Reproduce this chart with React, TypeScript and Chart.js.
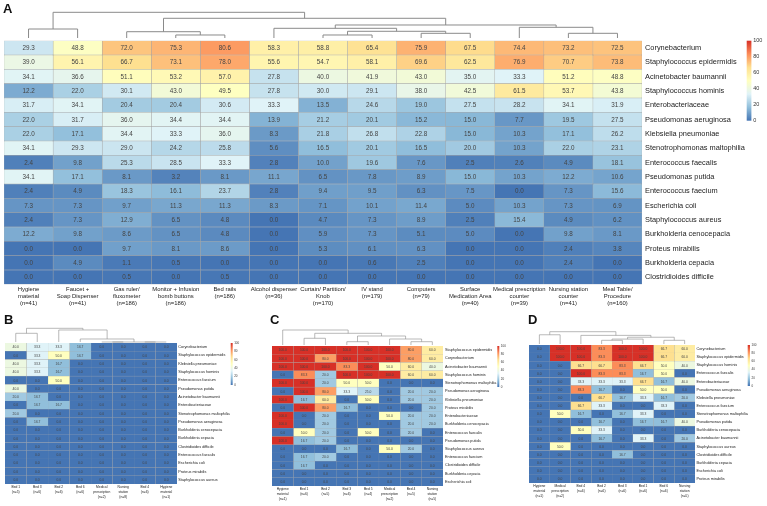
import React, { useEffect, useRef } from "react";
import { Chart, registerables } from "chart.js";
Chart.register(...registerables);

const FONT = "'Liberation Sans', Arial, Helvetica, sans-serif";

// ---------------- Panel A data ----------------
const colsA: string[][] = [
  ["Hygiene", "material", "(n=41)"],
  ["Faucet +", "Soap Dispenser", "(n=41)"],
  ["Gas ruler/", "fluxometer", "(n=186)"],
  ["Monitor + Infusion", "bomb buttons", "(n=186)"],
  ["Bed rails", "(n=186)"],
  ["Alcohol dispenser", "(n=36)"],
  ["Curtain/ Partition/", "Knob", "(n=170)"],
  ["IV stand", "(n=179)"],
  ["Computers", "(n=79)"],
  ["Surface", "Medication Area", "(n=40)"],
  ["Medical prescription", "counter", "(n=39)"],
  ["Nursing station", "counter", "(n=41)"],
  ["Meal Table/", "Procedure", "(n=160)"],
];
const rowsA: string[] = [
  "Corynebacterium", "Staphylococcus epidermidis", "Acinetobacter baumannii", "Staphylococcus hominis",
  "Enterobacteriaceae", "Pseudomonas aeruginosa", "Klebsiella pneumoniae", "Stenotrophomonas maltophilia",
  "Enterococcus faecalis", "Pseudomonas putida", "Enterococcus faecium", "Escherichia coli",
  "Staphylococcus aureus", "Burkholderia cenocepacia", "Proteus mirabilis", "Burkholderia cepacia",
  "Clostridioides difficile",
];
const valuesA: number[][] = [
  [29.3, 48.8, 72.0, 75.3, 80.6, 58.3, 58.8, 65.4, 75.9, 67.5, 74.4, 73.2, 72.5],
  [39.0, 56.1, 66.7, 73.1, 78.0, 55.6, 54.7, 58.1, 69.6, 62.5, 76.9, 70.7, 73.8],
  [34.1, 36.6, 51.1, 53.2, 57.0, 27.8, 40.0, 41.9, 43.0, 35.0, 33.3, 51.2, 48.8],
  [12.2, 22.0, 30.1, 43.0, 49.5, 27.8, 30.0, 29.1, 38.0, 42.5, 61.5, 53.7, 43.8],
  [31.7, 34.1, 20.4, 20.4, 30.6, 33.3, 13.5, 24.6, 19.0, 27.5, 28.2, 34.1, 31.9],
  [22.0, 31.7, 36.0, 34.4, 34.4, 13.9, 21.2, 20.1, 15.2, 15.0, 7.7, 19.5, 27.5],
  [22.0, 17.1, 34.4, 33.3, 36.0, 8.3, 21.8, 26.8, 22.8, 15.0, 10.3, 17.1, 26.2],
  [34.1, 29.3, 29.0, 24.2, 25.8, 5.6, 16.5, 20.1, 16.5, 20.0, 10.3, 22.0, 23.1],
  [2.4, 9.8, 25.3, 28.5, 33.3, 2.8, 10.0, 19.6, 7.6, 2.5, 2.6, 4.9, 18.1],
  [34.1, 17.1, 8.1, 3.2, 8.1, 11.1, 6.5, 7.8, 8.9, 15.0, 10.3, 12.2, 10.6],
  [2.4, 4.9, 18.3, 16.1, 23.7, 2.8, 9.4, 9.5, 6.3, 7.5, 0.0, 7.3, 15.6],
  [7.3, 7.3, 9.7, 11.3, 11.3, 8.3, 7.1, 10.1, 11.4, 5.0, 10.3, 7.3, 6.9],
  [2.4, 7.3, 12.9, 6.5, 4.8, 0.0, 4.7, 7.3, 8.9, 2.5, 15.4, 4.9, 6.2],
  [12.2, 9.8, 8.6, 6.5, 4.8, 0.0, 5.9, 7.3, 5.1, 5.0, 0.0, 9.8, 8.1],
  [0.0, 0.0, 9.7, 8.1, 8.6, 0.0, 5.3, 6.1, 6.3, 0.0, 0.0, 2.4, 3.8],
  [0.0, 4.9, 1.1, 0.5, 0.0, 0.0, 0.0, 0.6, 2.5, 0.0, 0.0, 2.4, 0.0],
  [0.0, 0.0, 0.5, 0.0, 0.5, 0.0, 0.0, 0.0, 0.0, 0.0, 0.0, 0.0, 0.0],
];
type Tree = number | [number, Tree, Tree];
const treeA: Tree = [1.0, [0.35, 0, 1], [0.767, [0.245, 2, [0.117, 3, 4]],
  [0.506, [0.377, 5, [0.261, [0.117, 6, 7], [0.183, 8, 9]]], [0.416, 10, [0.183, 11, 12]]]]];

// ---------------- Panel B data ----------------
const colsB: string[][] = [
  ["Bed 1", "(n=5)"], ["Bed 3", "(n=6)"], ["Bed 2", "(n=6)"], ["Bed 6", "(n=6)"],
  ["Medical", "prescription", "(n=2)"], ["Nursing", "station", "(n=8)"], ["Bed 4", "(n=6)"],
  ["Hygiene", "material", "(n=1)"],
];
const rowsB: string[] = [
  "Corynebacterium", "Staphylococcus epidermidis", "Klebsiella pneumoniae", "Staphylococcus hominis",
  "Enterococcus faecium", "Pseudomonas putida", "Acinetobacter baumannii", "Enterobacteriaceae",
  "Stenotrophomonas maltophilia", "Pseudomonas aeruginosa", "Burkholderia cenocepacia", "Burkholderia cepacia",
  "Clostridioides difficile", "Enterococcus faecalis", "Escherichia coli", "Proteus mirabilis",
  "Staphylococcus aureus",
];
const valuesB: number[][] = [
  [40.0, 33.3, 33.3, 16.7, 0, 0, 0, 0],
  [0, 33.3, 50.0, 16.7, 0, 0, 0, 0],
  [40.0, 33.3, 16.7, 0, 0, 0, 0, 0],
  [40.0, 33.3, 16.7, 0, 0, 0, 0, 0],
  [0, 0, 50.0, 0, 0, 0, 0, 0],
  [40.0, 0, 0, 0, 0, 0, 0, 0],
  [20.0, 16.7, 0, 0, 0, 0, 0, 0],
  [0, 16.7, 16.7, 0, 0, 0, 0, 0],
  [20.0, 0, 0, 0, 0, 0, 0, 0],
  [0, 16.7, 0, 0, 0, 0, 0, 0],
  [0, 0, 0, 0, 0, 0, 0, 0],
  [0, 0, 0, 0, 0, 0, 0, 0],
  [0, 0, 0, 0, 0, 0, 0, 0],
  [0, 0, 0, 0, 0, 0, 0, 0],
  [0, 0, 0, 0, 0, 0, 0, 0],
  [0, 0, 0, 0, 0, 0, 0, 0],
  [0, 0, 0, 0, 0, 0, 0, 0],
];
const treeB: Tree = [1.0, [0.635, 0, 1], [0.876, 2, [0.22, 3, [0, [0, 4, 5], [0, 6, 7]]]]];

// ---------------- Panel C data ----------------
const colsC: string[][] = [
  ["Hygiene", "material", "(n=1)"], ["Bed 1", "(n=6)"], ["Bed 2", "(n=5)"], ["Bed 3", "(n=6)"],
  ["Bed 5", "(n=4)"], ["Medical", "prescription", "(n=2)"], ["Bed 4", "(n=5)"], ["Nursing", "station", "(n=5)"],
];
const rowsC: string[] = [
  "Staphylococcus epidermidis", "Corynebacterium", "Acinetobacter baumannii", "Staphylococcus hominis",
  "Stenotrophomonas maltophilia", "Pseudomonas aeruginosa", "Klebsiella pneumoniae", "Proteus mirabilis",
  "Enterobacteriaceae", "Burkholderia cenocepacia", "Enterococcus faecalis", "Pseudomonas putida",
  "Staphylococcus aureus", "Enterococcus faecium", "Clostridioides difficile", "Burkholderia cepacia",
  "Escherichia coli",
];
const valuesC: number[][] = [
  [100, 100, 100, 100, 100, 100, 80.0, 60.0],
  [100, 100, 80.0, 100, 100, 100, 80.0, 60.0],
  [100, 100, 100, 83.3, 100, 50.0, 60.0, 40.0],
  [0, 83.3, 20.0, 100, 100, 100, 60.0, 60.0],
  [100, 100, 20.0, 50.0, 50.0, 0, 0, 0],
  [0, 100, 80.0, 33.3, 25.0, 0, 20.0, 20.0],
  [100, 16.7, 60.0, 0, 50.0, 0, 20.0, 20.0],
  [0, 100, 80.0, 16.7, 0, 0, 0, 20.0],
  [100, 0, 20.0, 0, 0, 50.0, 20.0, 20.0],
  [100, 0, 20.0, 0, 0, 0, 20.0, 20.0],
  [0, 50.0, 20.0, 0, 50.0, 0, 20.0, 0],
  [100, 16.7, 20.0, 0, 0, 0, 0, 0],
  [0, 0, 0, 16.7, 0, 50.0, 20.0, 0],
  [0, 16.7, 20.0, 0, 0, 0, 0, 0],
  [0, 16.7, 0, 0, 0, 0, 0, 0],
  [0, 0, 0, 0, 0, 0, 0, 0],
  [0, 0, 0, 0, 0, 0, 0, 0],
];
const treeC: Tree = [1.0, 0, [0.78, [0.447, 1, 2], [0.6, [0.22, 3, 4], [0.4, 5, [0.22, 6, 7]]]]];

// ---------------- Panel D data ----------------
const colsD: string[][] = [
  ["Hygiene", "material", "(n=1)"], ["Medical", "prescription", "(n=2)"], ["Bed 4", "(n=6)"], ["Bed 2", "(n=6)"],
  ["Bed 3", "(n=6)"], ["Bed 1", "(n=6)"], ["Bed 6", "(n=6)"], ["Nursing", "station", "(n=5)"],
];
const rowsD: string[] = [
  "Corynebacterium", "Staphylococcus epidermidis", "Staphylococcus hominis", "Enterococcus faecalis",
  "Enterobacteriaceae", "Pseudomonas aeruginosa", "Klebsiella pneumoniae", "Enterococcus faecium",
  "Stenotrophomonas maltophilia", "Pseudomonas putida", "Burkholderia cenocepacia", "Acinetobacter baumannii",
  "Staphylococcus aureus", "Clostridioides difficile", "Burkholderia cepacia", "Escherichia coli",
  "Proteus mirabilis",
];
const valuesD: number[][] = [
  [0, 100, 100, 83.3, 100, 100, 66.7, 60.0],
  [0, 100, 100, 83.3, 100, 100, 66.7, 60.0],
  [0, 0, 66.7, 66.7, 83.3, 66.7, 50.0, 40.0],
  [0, 0, 100, 83.3, 83.3, 16.7, 50.0, 0],
  [0, 0, 33.3, 33.3, 33.3, 66.7, 16.7, 40.0],
  [0, 0, 83.3, 16.7, 0, 50.0, 50.0, 0],
  [0, 0, 0, 66.7, 16.7, 33.3, 16.7, 20.0],
  [0, 0, 66.7, 33.3, 0, 0, 33.3, 0],
  [0, 50.0, 16.7, 0, 16.7, 33.3, 0, 0],
  [0, 0, 0, 16.7, 0, 16.7, 16.7, 40.0],
  [0, 0, 50.0, 33.3, 0, 0, 0, 0],
  [0, 0, 0, 16.7, 0, 33.3, 0, 20.0],
  [0, 50.0, 0, 0, 0, 0, 0, 0],
  [0, 0, 0, 0, 16.7, 0, 0, 0],
  [0, 0, 0, 0, 0, 0, 0, 0],
  [0, 0, 0, 0, 0, 0, 0, 0],
  [0, 0, 0, 0, 0, 0, 0, 0],
];
const treeD: Tree = [1.0, [0.75, 0, 1], [0.7, 2, [0.55, [0.4, [0.3, 3, 4], 5], [0.3, 6, 7]]]];

const legendTicks = [0, 20, 40, 60, 80, 100];

// ---------------- colour scale (pheatmap default RdYlBu reversed) ----------------
const RAMP = ["#4575B4", "#91BFDB", "#E0F3F8", "#FFFFBF", "#FEE090", "#FC8D59", "#D73027"];
function hexToRgb(h: string): number[] {
  return [parseInt(h.slice(1, 3), 16), parseInt(h.slice(3, 5), 16), parseInt(h.slice(5, 7), 16)];
}
function colorFor(v: number): string {
  const t = (Math.max(0, Math.min(100, v)) / 100) * (RAMP.length - 1);
  const i = Math.min(Math.floor(t), RAMP.length - 2);
  const f = t - i;
  const a = hexToRgb(RAMP[i]);
  const b = hexToRgb(RAMP[i + 1]);
  const c = a.map((x, k) => Math.round(x + (b[k] - x) * f));
  return `rgb(${c[0]},${c[1]},${c[2]})`;
}

interface Panel {
  letter: string;
  rows: string[];
  cols: string[][];
  values: number[][];
  tree: Tree;
  box: { left: number; top: number; width: number; height: number };
  area: { left: number; top: number; right: number; bottom: number };
  rowFont: number; valFont: number; colFont: number; colLine: number; colPad: number; rowPad: number;
  treeGap: number; treeH: number;
  letterPos: { x: number; y: number; size: number };
  cbar: { x: number; w: number; h: number; font: number; gap: number };
  lineW: number; borderW: number;
}

const panels: Panel[] = [
  {
    letter: "A", rows: rowsA, cols: colsA, values: valuesA, tree: treeA,
    box: { left: 0, top: 0, width: 767, height: 310 },
    area: { left: 4, top: 40.7, right: 642, bottom: 284.3 },
    rowFont: 7.4, valFont: 6.3, colFont: 5.9, colLine: 7.2, colPad: 1, rowPad: 3,
    treeGap: 2.7, treeH: 25.7,
    letterPos: { x: 3, y: 12.5, size: 13 },
    cbar: { x: 746.7, w: 4.7, h: 80, font: 5.5, gap: 1.8 },
    lineW: 1, borderW: 0.5,
  },
  {
    letter: "B", rows: rowsB, cols: colsB, values: valuesB, tree: treeB,
    box: { left: 0, top: 306, width: 255, height: 200 },
    area: { left: 5, top: 37, right: 177, bottom: 178 },
    rowFont: 3.8, valFont: 3.3, colFont: 3.3, colLine: 5, colPad: 0.8, rowPad: 1.3,
    treeGap: 1, treeH: 13.7,
    letterPos: { x: 4, y: 17.5, size: 13 },
    cbar: { x: 230.7, w: 2, h: 42, font: 3, gap: 1.5 },
    lineW: 0.6, borderW: 0.3,
  },
  {
    letter: "C", rows: rowsC, cols: colsC, values: valuesC, tree: treeC,
    box: { left: 255, top: 306, width: 255, height: 200 },
    area: { left: 17, top: 40, right: 188, bottom: 180 },
    rowFont: 3.8, valFont: 3.3, colFont: 3.3, colLine: 5, colPad: 0.8, rowPad: 2,
    treeGap: 1, treeH: 15,
    letterPos: { x: 15, y: 17.5, size: 13 },
    cbar: { x: 242.3, w: 2, h: 41, font: 3, gap: 1.5 },
    lineW: 0.6, borderW: 0.3,
  },
  {
    letter: "D", rows: rowsD, cols: colsD, values: valuesD, tree: treeD,
    box: { left: 510, top: 306, width: 257, height: 200 },
    area: { left: 19, top: 39, right: 185, bottom: 177 },
    rowFont: 3.8, valFont: 3.3, colFont: 3.3, colLine: 5, colPad: 0.8, rowPad: 1.5,
    treeGap: 1, treeH: 12.3,
    letterPos: { x: 18, y: 17.5, size: 13 },
    cbar: { x: 237.7, w: 2.3, h: 41, font: 3, gap: 1.5 },
    lineW: 0.6, borderW: 0.3,
  },
];

function drawTree(ctx: CanvasRenderingContext2D, node: Tree, xOf: (i: number) => number, base: number, H: number): { x: number; y: number } {
  if (typeof node === "number") return { x: xOf(node), y: base };
  const [h, l, r] = node;
  const a = drawTree(ctx, l, xOf, base, H);
  const b = drawTree(ctx, r, xOf, base, H);
  const y = base - h * H;
  ctx.moveTo(a.x, a.y);
  ctx.lineTo(a.x, y);
  ctx.lineTo(b.x, y);
  ctx.lineTo(b.x, b.y);
  return { x: (a.x + b.x) / 2, y };
}

function makeChart(canvas: HTMLCanvasElement, p: Panel): Chart {
  const ncol = p.cols.length;
  const datasets = p.cols.map((c, j) => ({
    label: c.join(" "),
    data: p.rows.map(() => 1),
    backgroundColor: p.rows.map((_, i) => colorFor(p.values[i][j])),
    borderColor: "#a6a6a6",
    borderWidth: p.borderW,
    borderSkipped: false as const,
    categoryPercentage: 1,
    barPercentage: 1,
  }));

  const overlay = {
    id: "overlay" + p.letter,
    afterDatasetsDraw(chart: any) {
      const ctx: CanvasRenderingContext2D = chart.ctx;
      ctx.save();
      ctx.font = `${p.valFont}px ${FONT}`;
      ctx.fillStyle = "#444";
      ctx.textAlign = "center";
      ctx.textBaseline = "middle";
      chart.data.datasets.forEach((_: any, j: number) => {
        const meta = chart.getDatasetMeta(j);
        meta.data.forEach((el: any, i: number) => {
          const pr = el.getProps(["x", "y", "base"], true);
          ctx.fillText(p.values[i][j].toFixed(1), (pr.x + pr.base) / 2, pr.y + 0.3);
        });
      });
      ctx.restore();
    },
    afterDraw(chart: any) {
      const ctx: CanvasRenderingContext2D = chart.ctx;
      const xs = chart.scales.x;
      const area = chart.chartArea;
      ctx.save();
      // dendrogram
      ctx.beginPath();
      ctx.strokeStyle = "#8a8a8a";
      ctx.lineWidth = p.lineW;
      drawTree(ctx, p.tree, (i) => xs.getPixelForValue(i + 0.5), area.top - p.treeGap, p.treeH);
      ctx.stroke();
      // colour bar
      const cb = p.cbar;
      const top = area.top;
      const grad = ctx.createLinearGradient(0, top + cb.h, 0, top);
      RAMP.forEach((c, k) => grad.addColorStop(k / (RAMP.length - 1), c));
      ctx.fillStyle = grad;
      ctx.fillRect(cb.x, top, cb.w, cb.h);
      ctx.font = `${cb.font}px ${FONT}`;
      ctx.fillStyle = "#333";
      ctx.textAlign = "left";
      ctx.textBaseline = "middle";
      legendTicks.forEach((t) => {
        ctx.fillText(String(t), cb.x + cb.w + cb.gap, top + cb.h - (t / 100) * cb.h);
      });
      // panel letter
      ctx.font = `bold ${p.letterPos.size}px ${FONT}`;
      ctx.fillStyle = "#111";
      ctx.textBaseline = "alphabetic";
      ctx.fillText(p.letter, p.letterPos.x, p.letterPos.y);
      ctx.restore();
    },
  };

  return new Chart(canvas, {
    type: "bar",
    data: { labels: p.rows, datasets: datasets as any },
    options: {
      indexAxis: "y",
      responsive: false,
      animation: false,
      devicePixelRatio: 1,
      events: [],
      layout: { padding: { left: p.area.left, top: p.area.top, right: 0, bottom: 0 } },
      plugins: { legend: { display: false }, tooltip: { enabled: false }, title: { display: false } },
      scales: {
        x: {
          type: "linear",
          stacked: true,
          min: 0,
          max: ncol,
          grid: { display: false, drawTicks: false },
          border: { display: false },
          afterBuildTicks: (s: any) => {
            s.ticks = p.cols.map((_, i) => ({ value: i + 0.5 }));
          },
          afterFit: (s: any) => {
            s.height = p.box.height - p.area.bottom;
          },
          ticks: {
            autoSkip: false,
            maxRotation: 0,
            minRotation: 0,
            padding: p.colPad,
            color: "#222",
            font: { family: FONT, size: p.colFont, lineHeight: p.colLine + "px" },
            callback: (_v: any, i: number) => p.cols[i],
          },
        },
        y: {
          type: "category",
          stacked: true,
          position: "right",
          grid: { display: false, drawTicks: false },
          border: { display: false },
          afterFit: (s: any) => {
            s.width = p.box.width - p.area.right;
          },
          ticks: {
            autoSkip: false,
            padding: p.rowPad,
            color: "#222",
            font: { family: FONT, size: p.rowFont },
          },
        },
      } as any,
    },
    plugins: [overlay],
  });
}

function HeatPanel({ p }: { p: Panel }) {
  const ref = useRef<HTMLCanvasElement>(null);
  useEffect(() => {
    const chart = makeChart(ref.current as HTMLCanvasElement, p);
    return () => chart.destroy();
  }, [p]);
  return (
    <canvas
      ref={ref}
      width={p.box.width}
      height={p.box.height}
      style={{ position: "absolute", left: p.box.left, top: p.box.top, width: p.box.width, height: p.box.height, display: "block" }}
    />
  );
}

export default function App() {
  return (
    <div style={{ position: "absolute", left: 0, top: 0, width: 767, height: 506, background: "#fff", overflow: "hidden" }}>
      {panels.map((p) => (
        <HeatPanel key={p.letter} p={p} />
      ))}
    </div>
  );
}
